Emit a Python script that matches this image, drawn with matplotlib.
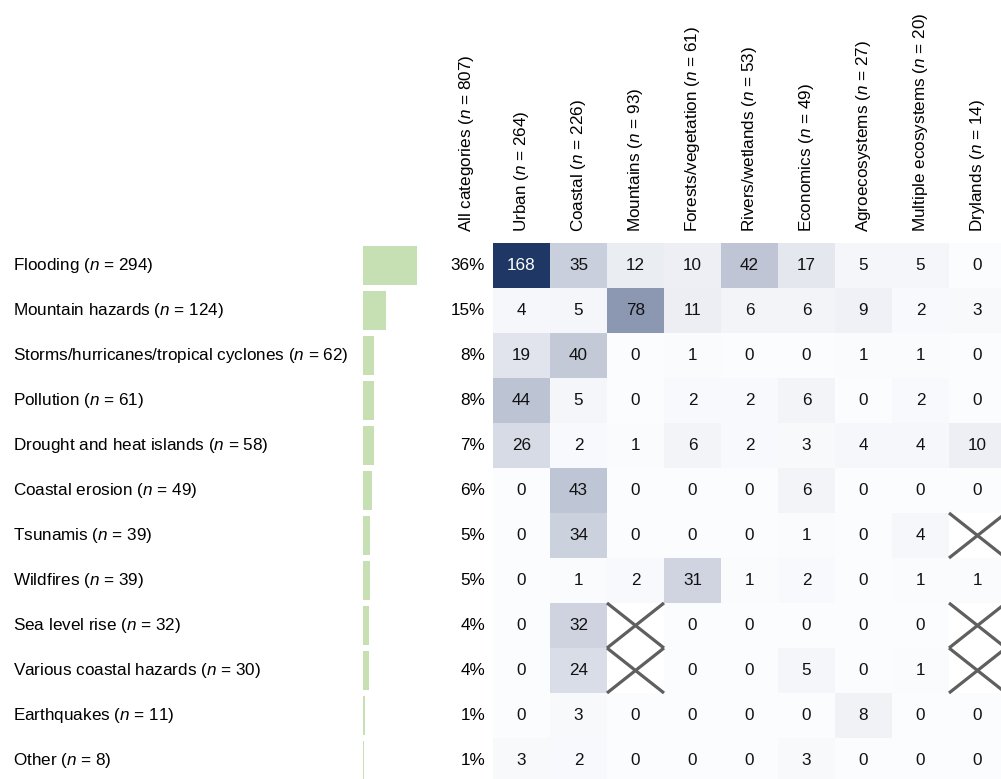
import numpy as np
import matplotlib.pyplot as plt
from matplotlib.colors import LinearSegmentedColormap
from matplotlib.transforms import blended_transform_factory

plt.rcParams['font.family'] = ['Liberation Sans', 'DejaVu Sans']
plt.rcParams['mathtext.fontset'] = 'custom'
plt.rcParams['mathtext.it'] = 'Liberation Sans:italic'
plt.rcParams['mathtext.rm'] = 'Liberation Sans'

hazards = ["Flooding", "Mountain hazards", "Storms/hurricanes/tropical cyclones",
           "Pollution", "Drought and heat islands", "Coastal erosion", "Tsunamis",
           "Wildfires", "Sea level rise", "Various coastal hazards", "Earthquakes", "Other"]
hazard_n = [294, 124, 62, 61, 58, 49, 39, 39, 32, 30, 11, 8]
pct_labels = ["36%", "15%", "8%", "8%", "7%", "6%", "5%", "5%", "4%", "4%", "1%", "1%"]

ecosystems = ["Urban", "Coastal", "Mountains", "Forests/vegetation", "Rivers/wetlands",
              "Economics", "Agroecosystems", "Multiple ecosystems", "Drylands"]
eco_n = [264, 226, 93, 61, 53, 49, 27, 20, 14]
total_n = 807

X = np.nan  # crossed-out cell
counts = np.array([
    [168, 35, 12, 10, 42, 17, 5, 5, 0],
    [4, 5, 78, 11, 6, 6, 9, 2, 3],
    [19, 40, 0, 1, 0, 0, 1, 1, 0],
    [44, 5, 0, 2, 2, 6, 0, 2, 0],
    [26, 2, 1, 6, 2, 3, 4, 4, 10],
    [0, 43, 0, 0, 0, 6, 0, 0, 0],
    [0, 34, 0, 0, 0, 1, 0, 4, X],
    [0, 1, 2, 31, 1, 2, 0, 1, 1],
    [0, 32, X, 0, 0, 0, 0, 0, X],
    [0, 24, X, 0, 0, 5, 0, 1, X],
    [0, 3, 0, 0, 0, 0, 8, 0, 0],
    [3, 2, 0, 0, 0, 3, 0, 0, 0],
])

FS = 12.3
W, H = 1001, 779
fig = plt.figure(figsize=(W / 100, H / 100), dpi=100)

# heatmap axes (last column/row run past the figure edge, as in the original)
top, cellw, cellh = 243, 57, 45
ax = fig.add_axes([493 / W, (H - (top + 12 * cellh)) / H, 9 * cellw / W, 12 * cellh / H])
cmap = LinearSegmentedColormap.from_list(
    "navy", [(0, "#fbfcfe"), (0.46, "#8d98b2"), (1, "#1f3764")])
masked = np.ma.masked_invalid(counts)
ax.pcolormesh(np.arange(10), np.arange(13), masked, cmap=cmap, vmin=0, vmax=168)
ax.set_xlim(0, 9)
ax.set_ylim(12, 0)
ax.axis("off")

for i in range(counts.shape[0]):
    for j in range(counts.shape[1]):
        v = counts[i, j]
        if np.isnan(v):
            ax.plot([j, j + 1], [i, i + 1], color="#5f5f5f", lw=2.3, solid_capstyle="butt")
            ax.plot([j, j + 1], [i + 1, i], color="#5f5f5f", lw=2.3, solid_capstyle="butt")
        else:
            ax.text(j + 0.5, i + 0.5, f"{int(v)}", ha="center", va="center", fontsize=FS,
                    color="white" if v > 100 else "#111111")
    ax.text(-0.14, i + 0.5, pct_labels[i], ha="right", va="center", fontsize=FS)

ax.text(-0.47, -0.24, f"All categories ($n$ = {total_n})", rotation=90,
        ha="center", va="bottom", fontsize=FS, clip_on=False)
for j, (name, n) in enumerate(zip(ecosystems, eco_n)):
    ax.text(j + 0.5, -0.24, f"{name} ($n$ = {n})", rotation=90,
            ha="center", va="bottom", fontsize=FS, clip_on=False)

# proportion bars
bx = fig.add_axes([363 / W, (H - (top + 12 * cellh)) / H, 100 / W, 12 * cellh / H])
bx.barh(np.arange(12) + 0.5, hazard_n, height=0.86, left=0, color="#c6e0b4")
bx.set_xlim(0, 294 * 100 / 54)
bx.set_ylim(12, 0)
bx.axis("off")

tr = blended_transform_factory(fig.transFigure, bx.transData)
for i, (name, n) in enumerate(zip(hazards, hazard_n)):
    bx.text(13 / W, i + 0.5, f"{name} ($n$ = {n})", transform=tr,
            ha="left", va="center", fontsize=FS)

fig.savefig("out.png", dpi=100)
